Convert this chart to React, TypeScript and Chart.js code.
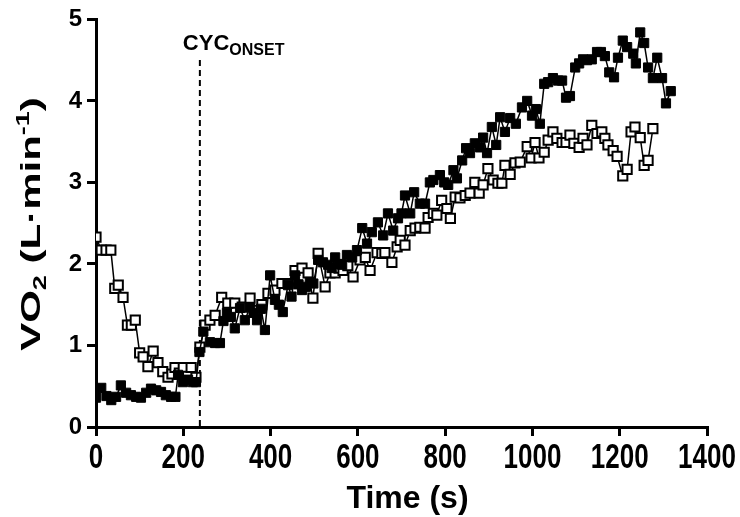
import React, { useEffect, useRef } from 'react';
import { Chart, registerables } from 'chart.js';

Chart.register(...registerables);

// Filled squares series
const filledTime = [0, 12, 24, 35, 46, 57, 69, 80, 92, 103, 115, 126, 138, 149, 160, 172, 182, 188, 199, 211, 222, 229, 237, 246, 261, 273, 284, 292, 300, 309, 318, 330, 341, 353, 361, 369, 378, 387, 399, 410, 419, 428, 440, 448, 456, 464, 472, 481, 490, 498, 509, 520, 532, 540, 548, 556, 564, 575, 587, 598, 610, 621, 632, 646, 658, 669, 681, 692, 700, 708, 720, 729, 742, 754, 765, 773, 788, 798, 807, 819, 827, 839, 848, 857, 868, 880, 887, 896, 907, 917, 926, 937, 949, 962, 976, 988, 999, 1008, 1017, 1027, 1036, 1047, 1059, 1068, 1077, 1086, 1098, 1107, 1116, 1125, 1136, 1148, 1157, 1166, 1176, 1187, 1196, 1207, 1217, 1231, 1237, 1247, 1256, 1265, 1276, 1286, 1297, 1306, 1317];
const filledVO2 = [0.36, 0.48, 0.38, 0.33, 0.37, 0.51, 0.42, 0.39, 0.37, 0.36, 0.42, 0.47, 0.45, 0.43, 0.39, 0.37, 0.37, 0.64, 0.55, 0.58, 0.55, 0.55, 0.92, 1.17, 1.04, 1.03, 1.03, 1.30, 1.40, 1.35, 1.21, 1.46, 1.31, 1.47, 1.40, 1.31, 1.45, 1.19, 1.86, 1.56, 1.50, 1.41, 1.74, 1.60, 1.86, 1.75, 1.68, 1.72, 1.78, 1.76, 2.05, 2.02, 1.99, 1.95, 2.08, 2.00, 1.99, 2.11, 2.08, 2.17, 2.44, 2.25, 2.39, 2.51, 2.35, 2.62, 2.41, 2.56, 2.62, 2.84, 2.62, 2.88, 2.74, 2.74, 3.00, 3.03, 3.09, 3.00, 2.97, 3.15, 3.05, 3.27, 3.42, 3.36, 3.48, 3.43, 3.55, 3.36, 3.68, 3.46, 3.80, 3.62, 3.79, 3.72, 3.92, 4.00, 3.82, 3.90, 3.72, 4.21, 4.23, 4.28, 4.25, 4.25, 4.04, 4.06, 4.41, 4.46, 4.51, 4.50, 4.51, 4.60, 4.60, 4.55, 4.35, 4.29, 4.53, 4.74, 4.66, 4.58, 4.46, 4.84, 4.71, 4.41, 4.28, 4.53, 4.28, 3.97, 4.12];

// Open squares series
const openTime = [0, 12, 23, 34, 43, 51, 62, 72, 81, 90, 100, 108, 119, 131, 142, 153, 165, 174, 181, 191, 200, 210, 218, 229, 238, 250, 261, 273, 288, 302, 318, 335, 353, 369, 380, 394, 410, 426, 440, 456, 472, 486, 497, 509, 525, 536, 548, 557, 566, 577, 589, 605, 617, 628, 644, 655, 662, 678, 690, 697, 708, 720, 731, 742, 754, 761, 773, 781, 792, 804, 812, 823, 834, 846, 857, 868, 878, 887, 898, 910, 921, 930, 937, 949, 960, 972, 988, 997, 1006, 1015, 1027, 1036, 1047, 1056, 1068, 1077, 1086, 1095, 1107, 1116, 1125, 1136, 1148, 1159, 1166, 1173, 1185, 1194, 1207, 1217, 1226, 1235, 1247, 1256, 1265, 1276];
const openVO2 = [2.33, 2.17, 2.17, 2.17, 1.70, 1.74, 1.59, 1.25, 1.25, 1.31, 0.91, 0.86, 0.74, 0.93, 0.79, 0.68, 0.61, 0.65, 0.73, 0.66, 0.73, 0.62, 0.73, 0.61, 0.98, 1.25, 1.31, 1.37, 1.59, 1.52, 1.52, 1.47, 1.58, 1.43, 1.50, 1.64, 1.68, 1.76, 1.76, 1.92, 1.95, 1.89, 1.58, 2.13, 1.72, 1.89, 1.89, 1.95, 1.92, 1.98, 1.84, 2.05, 2.08, 1.92, 2.14, 2.13, 2.14, 2.02, 2.21, 2.29, 2.23, 2.41, 2.44, 2.45, 2.44, 2.57, 2.62, 2.60, 2.78, 2.68, 2.56, 2.82, 2.81, 2.84, 2.87, 3.00, 2.87, 2.97, 3.17, 3.03, 2.99, 2.99, 3.21, 3.10, 3.24, 3.25, 3.44, 3.30, 3.49, 3.30, 3.37, 3.52, 3.62, 3.54, 3.49, 3.49, 3.58, 3.48, 3.43, 3.54, 3.46, 3.70, 3.60, 3.62, 3.54, 3.46, 3.39, 3.32, 3.08, 3.16, 3.62, 3.68, 3.55, 3.21, 3.27, 3.66];

const xTicks = [0, 200, 400, 600, 800, 1000, 1200, 1400];
const yTicks = [0, 1, 2, 3, 4, 5];

const onsetTime = 238;
const onsetMain = 'CYC';
const onsetSub = 'ONSET';
const xTitle = 'Time (s)';
const yTitleParts = [
  { text: 'VO', kind: 'main' },
  { text: '2', kind: 'sub' },
  { text: ' (L\u00B7min', kind: 'main' },
  { text: '-1', kind: 'sup' },
  { text: ')', kind: 'main' },
];

const FONT = "'Liberation Sans', Arial, Helvetica, sans-serif";

const overlayPlugin = {
  id: 'overlay',
  beforeDatasetsDraw(chart: any) {
    const { ctx, chartArea, scales } = chart;
    const x = scales.x.getPixelForValue(onsetTime);
    ctx.save();
    ctx.strokeStyle = '#000';
    ctx.lineWidth = 2;
    ctx.setLineDash([6, 4]);
    ctx.beginPath();
    ctx.moveTo(x, 60);
    ctx.lineTo(x, chartArea.bottom);
    ctx.stroke();
    ctx.restore();
  },
  afterDraw(chart: any) {
    const { ctx, chartArea, scales } = chart;
    ctx.save();
    ctx.fillStyle = '#000';
    ctx.textBaseline = 'alphabetic';

    // x tick labels (vertically stretched like the reference)
    const tfs = 26;
    ctx.font = `bold ${tfs}px ${FONT}`;
    ctx.textAlign = 'center';
    for (const v of xTicks) {
      const px = scales.x.getPixelForValue(v);
      ctx.save();
      ctx.translate(px, 455);
      ctx.scale(1, 1.35);
      ctx.fillText(String(v), 0, tfs * 0.358);
      ctx.restore();
    }

    // onset label
    const ox = scales.x.getPixelForValue(onsetTime);
    ctx.font = `bold 22px ${FONT}`;
    ctx.textAlign = 'left';
    const startX = ox - 17;
    ctx.fillText(onsetMain, startX, 50);
    const w1 = ctx.measureText(onsetMain).width;
    ctx.font = `bold 16px ${FONT}`;
    ctx.fillText(onsetSub, startX + w1, 55);

    // x title
    const xfs = 32;
    ctx.font = `bold ${xfs}px ${FONT}`;
    ctx.textAlign = 'center';
    ctx.fillText(xTitle, (chartArea.left + chartArea.right) / 2 + 6, 497 + xfs * 0.358);

    // y title (rotated, stretched along its length)
    const yfs = 28;
    const sfs = 18;
    const parts = yTitleParts.map((p) => {
      ctx.font = `bold ${p.kind === 'main' ? yfs : sfs}px ${FONT}`;
      return { ...p, w: ctx.measureText(p.text).width };
    });
    const total = parts.reduce((s, p) => s + p.w, 0);
    ctx.translate(30, 224);
    ctx.rotate(-Math.PI / 2);
    ctx.scale(1.5, 1);
    ctx.textAlign = 'left';
    let cx = -total / 2;
    const base = yfs * 0.358;
    for (const p of parts) {
      ctx.font = `bold ${p.kind === 'main' ? yfs : sfs}px ${FONT}`;
      let dy = base;
      if (p.kind === 'sub') dy = base + 6;
      if (p.kind === 'sup') dy = base - 11;
      ctx.fillText(p.text, cx, dy);
      cx += p.w;
    }
    ctx.restore();
  },
};

export default function App() {
  const canvasRef = useRef<HTMLCanvasElement | null>(null);

  useEffect(() => {
    document.body.style.margin = '0';
    const canvas = canvasRef.current;
    if (!canvas) return;
    const openData = openTime.map((t, i) => ({ x: t, y: openVO2[i] }));
    const filledData = filledTime.map((t, i) => ({ x: t, y: filledVO2[i] }));

    const chart = new Chart(canvas, {
      type: 'line',
      data: {
        datasets: [
          {
            label: 'filled',
            data: filledData,
            borderColor: '#000',
            borderWidth: 1.5,
            pointStyle: 'rect',
            pointRadius: 6.5,
            pointBackgroundColor: '#000',
            pointBorderColor: '#000',
            pointBorderWidth: 1,
            tension: 0,
            fill: false,
          },
          {
            label: 'open',
            data: openData,
            borderColor: '#000',
            borderWidth: 1.5,
            pointStyle: 'rect',
            pointRadius: 6.5,
            pointBackgroundColor: '#fff',
            pointBorderColor: '#000',
            pointBorderWidth: 2,
            tension: 0,
            fill: false,
          },
        ],
      },
      options: {
        animation: false,
        responsive: false,
        maintainAspectRatio: false,
        devicePixelRatio: 1,
        layout: { padding: { top: 19, right: 33, left: 0, bottom: 0 } },
        plugins: {
          legend: { display: false },
          tooltip: { enabled: false },
          title: { display: false },
        },
        scales: {
          x: {
            type: 'linear',
            min: xTicks[0],
            max: xTicks[xTicks.length - 1],
            border: { display: true, width: 3, color: '#000' },
            grid: {
              drawOnChartArea: false,
              drawTicks: true,
              tickLength: 9,
              lineWidth: 3,
              color: '#000',
            },
            afterBuildTicks(scale: any) {
              scale.ticks = xTicks.map((v) => ({ value: v }));
            },
            ticks: {
              color: 'rgba(0,0,0,0)',
              padding: 4,
              maxRotation: 0,
              autoSkip: false,
              font: { family: FONT, size: 24, weight: 'bold' },
              callback: (v: any) => String(v),
            },
            afterFit(scale: any) {
              scale.height = 90;
            },
          },
          y: {
            type: 'linear',
            min: yTicks[0],
            max: yTicks[yTicks.length - 1],
            border: { display: true, width: 3, color: '#000' },
            grid: {
              drawOnChartArea: false,
              drawTicks: true,
              tickLength: 9,
              lineWidth: 3,
              color: '#000',
            },
            afterBuildTicks(scale: any) {
              scale.ticks = yTicks.map((v) => ({ value: v }));
            },
            ticks: {
              color: '#000',
              padding: 5,
              autoSkip: false,
              font: { family: FONT, size: 24, weight: 'bold' },
              callback: (v: any) => String(v),
            },
            afterFit(scale: any) {
              scale.width = 96;
            },
          },
        },
      },
      plugins: [overlayPlugin],
    });
    return () => chart.destroy();
  }, []);

  return (
    <div style={{ width: 740, height: 517, position: 'relative', background: '#fff' }}>
      <canvas ref={canvasRef} width={740} height={517} style={{ display: 'block', width: 740, height: 517 }} />
    </div>
  );
}
